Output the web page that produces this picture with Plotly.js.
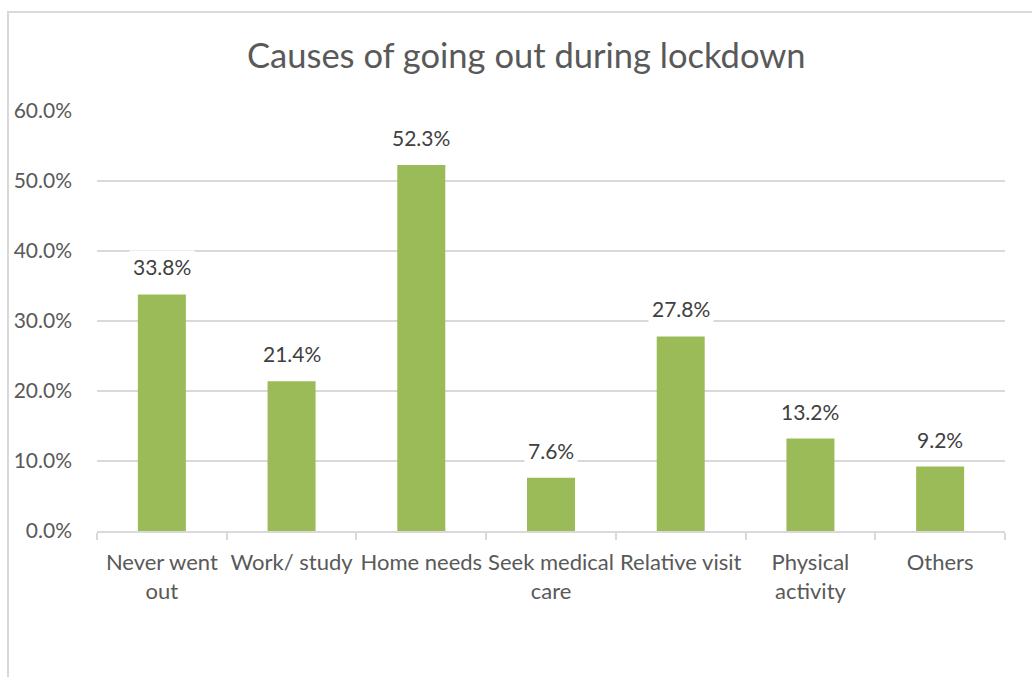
<!DOCTYPE html>
<html>
<head>
<meta charset="utf-8">
<script src="https://cdn.plot.ly/plotly-3.0.1.min.js"></script>
<style>
  html, body { margin: 0; padding: 0; background: #ffffff; }
  #wrap { position: relative; width: 1032px; height: 677px; overflow: hidden; }
  #frame { position: absolute; left: 7px; top: 11px; width: 1100px; height: 800px;
           border-left: 2px solid #d9d9d9; border-top: 2px solid #d9d9d9; }
  #chart { position: absolute; left: 0; top: 0; width: 1032px; height: 677px; }
</style>
</head>
<body>
<div id="wrap">
  <div id="frame"></div>
  <div id="chart"></div>
</div>
<script>
const categories = ["Never went<br>out", "Work/ study", "Home needs", "Seek medical<br>care", "Relative visit", "Physical<br>activity", "Others"];
const values = [0.338, 0.214, 0.523, 0.076, 0.278, 0.132, 0.092];
const valueLabels = ["33.8%", "21.4%", "52.3%", "7.6%", "27.8%", "13.2%", "9.2%"];
const titleText = "Causes of going out during lockdown";

const FONT = "Lato, 'Open Sans', sans-serif";

const trace = {
  type: "bar",
  x: categories,
  y: values,
  width: 0.37,
  marker: { color: "#9bbb59" },
  hoverinfo: "skip",
  cliponaxis: false
};

const annotations = categories.map((c, i) => ({
  x: c,
  y: values[i],
  xref: "x",
  yref: "y",
  text: valueLabels[i],
  showarrow: false,
  yanchor: "bottom",
  yshift: 11,
  bgcolor: "#ffffff",
  borderpad: 3,
  font: { family: FONT, size: 21, color: "#404040" }
}));

const layout = {
  width: 1032,
  height: 677,
  margin: { l: 97, r: 27, t: 111, b: 146 },
  paper_bgcolor: "rgba(0,0,0,0)",
  plot_bgcolor: "rgba(0,0,0,0)",
  showlegend: false,
  title: {
    text: titleText,
    x: 0.51,
    xanchor: "center",
    y: 0.918,
    yanchor: "middle",
    font: { family: FONT, size: 34.5, color: "#595959" }
  },
  xaxis: {
    type: "category",
    showgrid: false,
    showline: true,
    linecolor: "#d9d9d9",
    linewidth: 2,
    ticks: "outside",
    tickson: "boundaries",
    ticklen: 7,
    tickcolor: "#d9d9d9",
    tickwidth: 2,
    tickangle: 0,
    ticklabelstandoff: 11,
    tickfont: { family: FONT, size: 22, color: "#595959" },
    fixedrange: true
  },
  yaxis: {
    range: [0, 0.6],
    dtick: 0.1,
    tick0: 0,
    tickformat: ".1%",
    showgrid: true,
    gridcolor: "#d9d9d9",
    gridwidth: 2,
    zeroline: false,
    showline: false,
    ticks: "",
    ticklabelstandoff: 24,
    tickfont: { family: FONT, size: 21, color: "#595959" },
    fixedrange: true
  },
  annotations: annotations,
  bargap: 0.63
};

Plotly.newPlot("chart", [trace], layout, { staticPlot: true, displayModeBar: false });
</script>
</body>
</html>
